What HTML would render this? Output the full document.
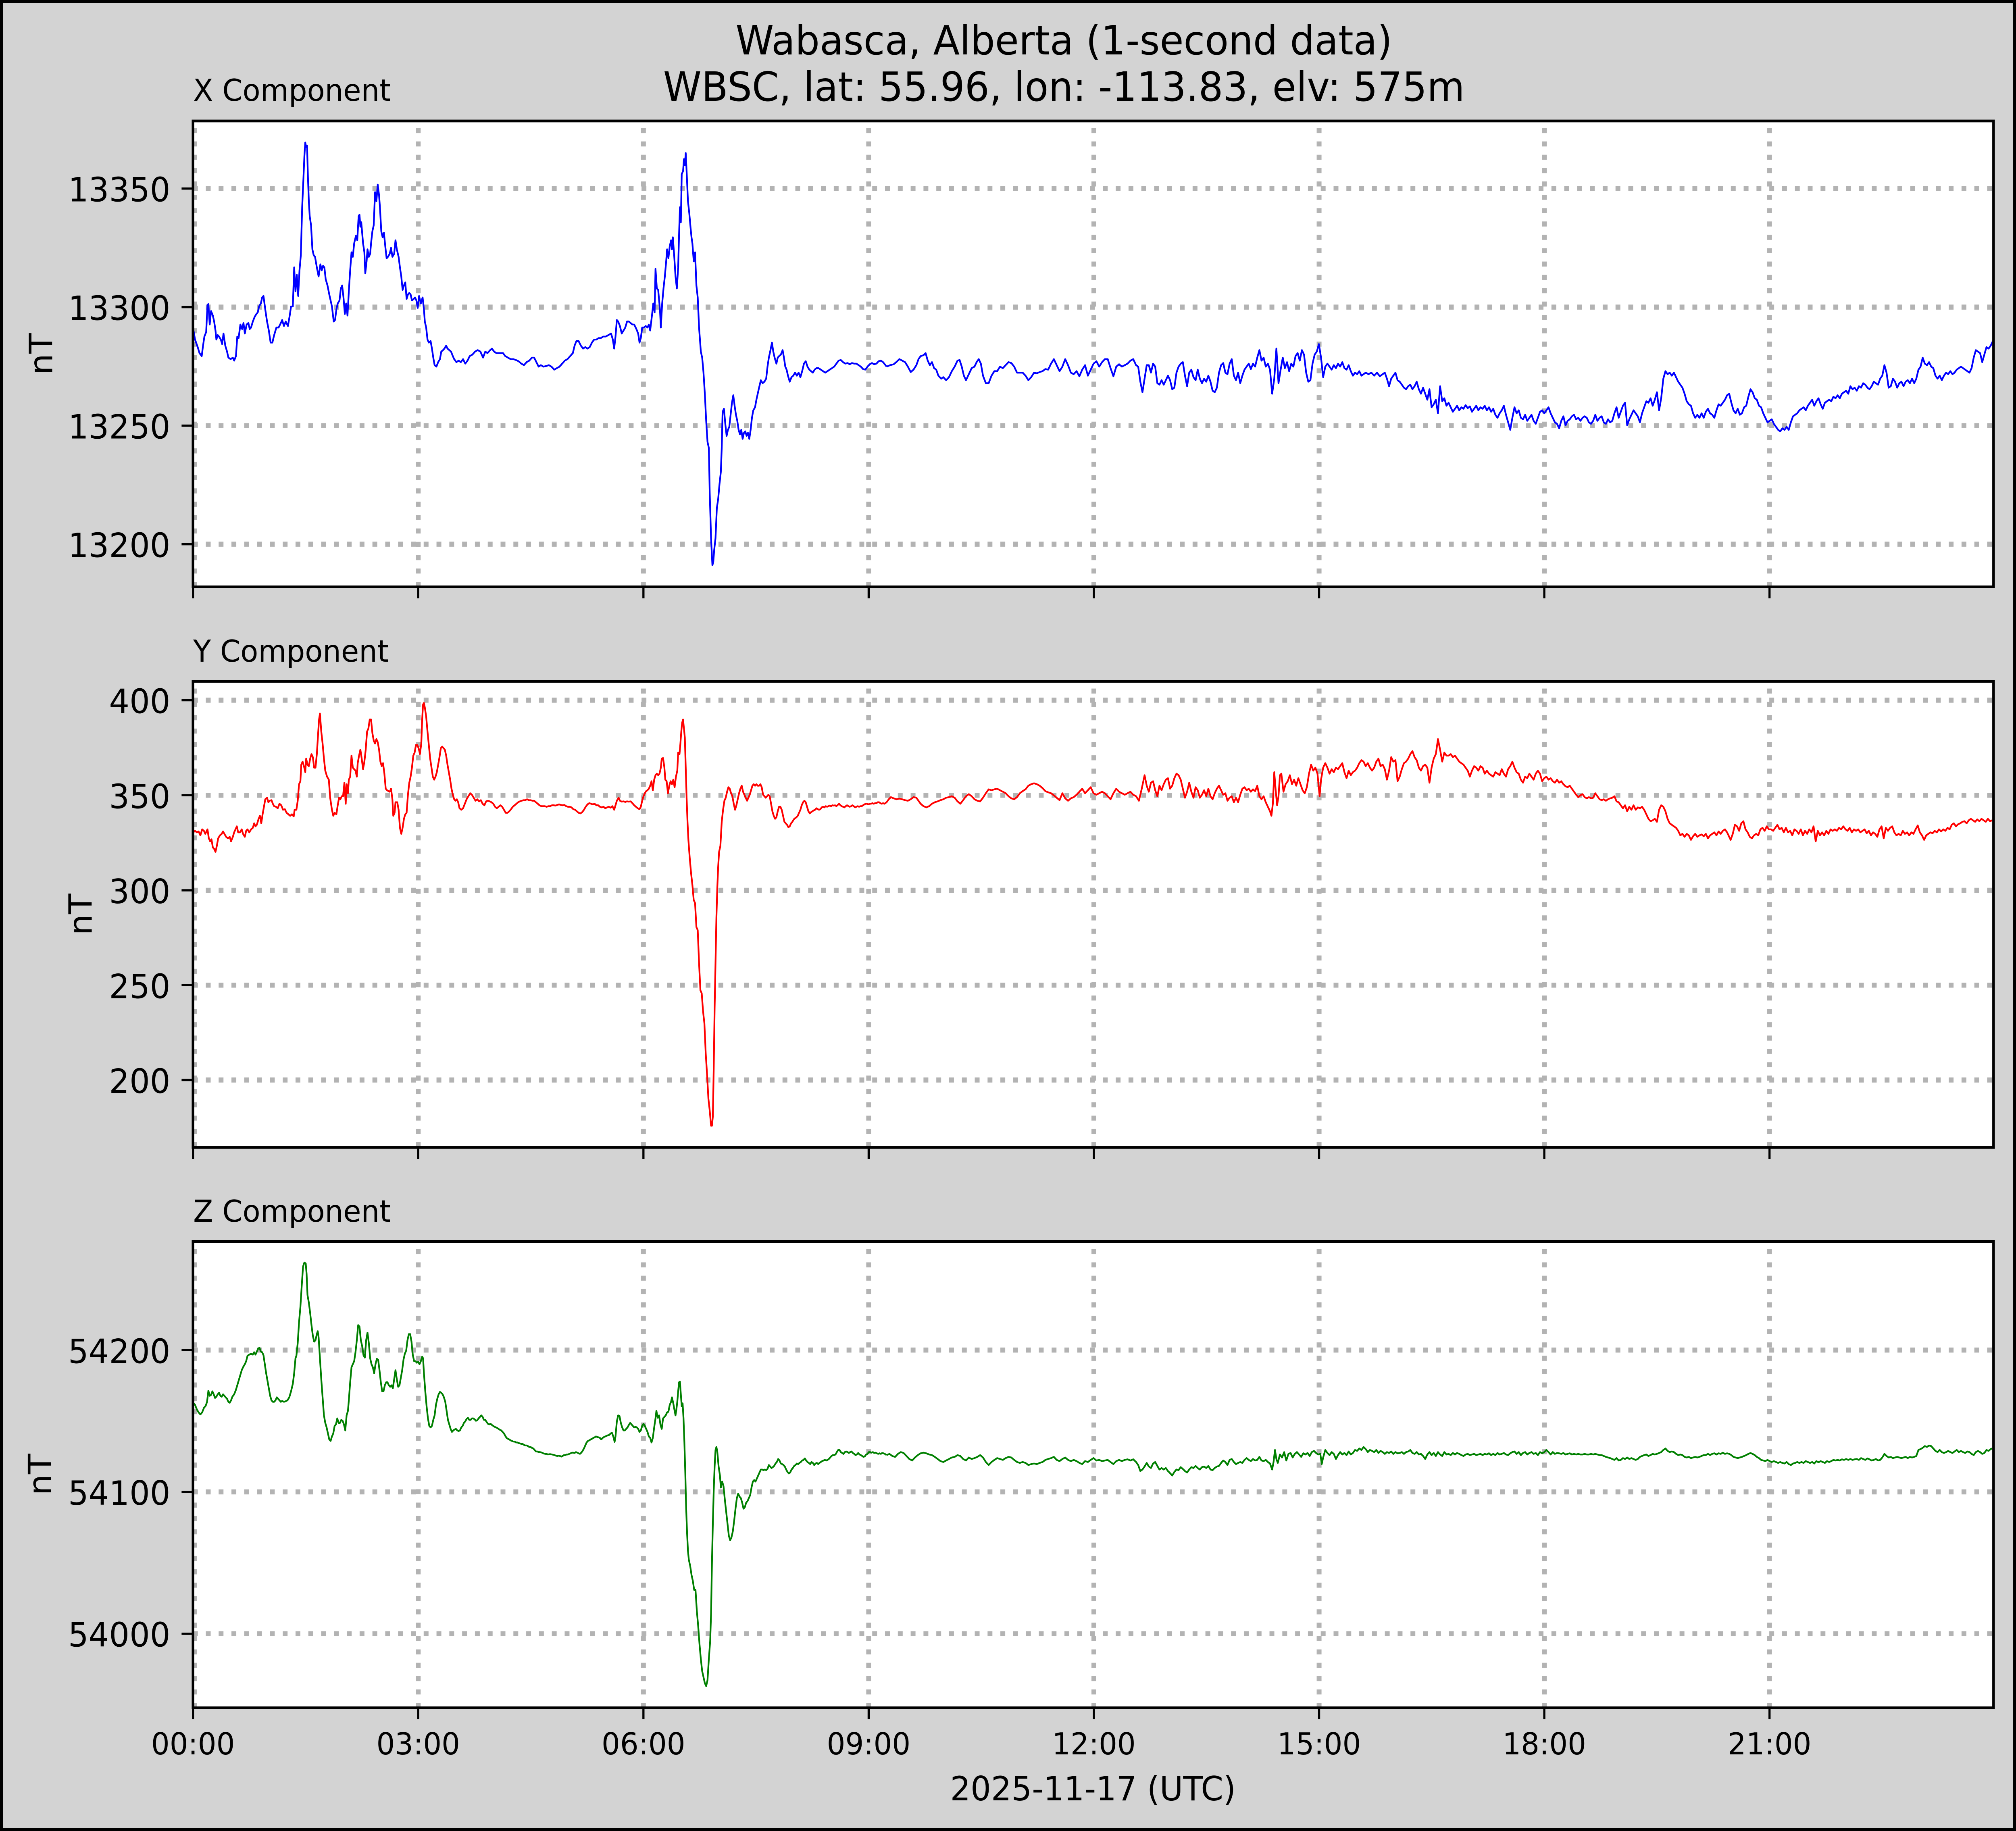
<!DOCTYPE html>
<html>
<head>
<meta charset="utf-8">
<style>
html,body{margin:0;padding:0;background:#d3d3d3;overflow:hidden;width:100%;height:100%;}
svg{display:block;width:100vw;height:100vh;}
text{font-family:"DejaVu Sans","Liberation Sans",sans-serif;fill:#000;}
.g{stroke:#b3b3b3;stroke-width:12.5;stroke-dasharray:12.5 20.6;fill:none;}
.tk{stroke:#000;stroke-width:5.5;}
.sp{fill:none;stroke:#000;stroke-width:6.7;}
.tr{fill:none;stroke-width:4.2;stroke-linejoin:round;vector-effect:non-scaling-stroke;}
</style>
</head>
<body>
<svg viewBox="0 0 5207 4541" preserveAspectRatio="none" xmlns="http://www.w3.org/2000/svg">
<defs>
<clipPath id="cx"><rect x="498.5" y="300" width="4650.5" height="1155.5"/></clipPath>
<clipPath id="cy"><rect x="498.5" y="1690" width="4650.5" height="1155.5"/></clipPath>
<clipPath id="cz"><rect x="498.5" y="3079" width="4650.5" height="1156.5"/></clipPath>
</defs>
<rect x="0" y="0" width="5207" height="4541" fill="#d3d3d3"/>

<!-- Title -->
<text x="2748" y="135" font-size="100" text-anchor="middle">Wabasca, Alberta (1-second data)</text>
<text x="2748" y="250" font-size="100" text-anchor="middle">WBSC, lat: 55.96, lon: -113.83, elv: 575m</text>

<!-- ================= X panel ================= -->
<rect x="498.5" y="300" width="4650.5" height="1155.5" fill="#fff"/>
<text x="499" y="250" font-size="75">X Component</text>
<g class="g">
<line x1="498.5" y1="467.6" x2="5149" y2="467.6"/>
<line x1="498.5" y1="761.6" x2="5149" y2="761.6"/>
<line x1="498.5" y1="1055.6" x2="5149" y2="1055.6"/>
<line x1="498.5" y1="1349.6" x2="5149" y2="1349.6"/>
<line x1="502" y1="1455.5" x2="502" y2="300"/>
<line x1="1080.2" y1="1455.5" x2="1080.2" y2="300"/>
<line x1="1661.9" y1="1455.5" x2="1661.9" y2="300"/>
<line x1="2243.6" y1="1455.5" x2="2243.6" y2="300"/>
<line x1="2825.3" y1="1455.5" x2="2825.3" y2="300"/>
<line x1="3407" y1="1455.5" x2="3407" y2="300"/>
<line x1="3988.7" y1="1455.5" x2="3988.7" y2="300"/>
<line x1="4570.4" y1="1455.5" x2="4570.4" y2="300"/>
</g>
<g clip-path="url(#cx)">
<polyline class="tr" stroke="#0000ff" transform="translate(490,290) scale(1.14796,0.74617)" points="8,705 12,740 18,765 22,785 27,795 30,760 33,730 37,715 40,625 42,622 45,690 48,645 52,660 55,680 58,710 60,740 63,725 66,730 70,740 73,755 76,720 80,760 84,780 87,800 92,805 97,800 100,810 104,795 107,730 110,735 114,690 118,705 121,685 124,720 128,690 132,685 135,705 138,700 142,680 146,665 150,655 153,650 156,630 160,620 163,600 166,595 170,640 174,680 178,710 182,750 186,750 190,725 195,700 200,700 205,685 208,675 212,695 216,680 221,695 225,660 228,630 232,630 235,500 238,580 241,525 244,595 247,510 250,460 253,300 256,200 258,130 260,85 262,100 264,95 266,200 268,280 270,330 273,360 276,440 279,460 282,465 286,500 290,530 294,490 297,510 300,495 303,500 306,540 310,560 314,590 317,610 320,630 324,680 327,675 330,640 333,620 337,610 340,570 343,560 346,600 349,655 352,620 355,660 358,580 361,510 364,450 367,465 370,420 374,395 377,410 380,330 382,325 384,365 386,350 390,420 393,450 395,520 398,480 400,440 403,465 406,455 408,420 411,380 414,360 417,250 420,280 423,225 426,260 428,300 431,380 434,400 437,385 440,430 443,470 446,465 450,455 453,435 456,465 460,455 463,410 466,440 470,465 473,500 476,530 479,575 482,560 485,550 488,605 491,590 494,585 497,590 500,610 504,605 507,600 510,610 513,635 516,595 520,620 524,600 527,640 529,680 532,700 535,740 538,750 542,745 545,770 548,800 551,825 555,830 559,815 563,805 566,780 570,775 573,770 577,760 580,770 584,775 588,780 592,795 595,805 600,815 605,810 610,815 615,805 620,820 625,810 630,795 636,790 642,780 648,775 654,780 660,800 665,780 670,785 676,775 680,770 685,780 690,785 695,785 700,785 705,785 710,795 716,800 722,805 728,805 734,808 740,812 746,820 752,825 758,815 764,810 770,800 775,800 780,815 785,830 790,825 796,830 802,828 808,825 814,830 820,840 826,835 832,830 838,820 844,810 850,805 856,795 862,785 866,760 870,745 875,745 880,760 885,770 890,765 895,770 900,765 905,750 910,740 915,740 920,735 925,735 930,730 936,730 942,725 948,720 952,740 955,770 958,730 961,675 964,680 968,695 972,720 976,710 980,700 984,680 988,680 992,685 996,690 1000,690 1005,705 1009,720 1012,750 1015,735 1018,700 1022,700 1026,695 1030,700 1033,690 1036,710 1040,660 1043,620 1046,650 1048,505 1051,570 1054,575 1058,640 1060,700 1063,620 1066,570 1069,530 1072,480 1074,440 1077,470 1080,430 1083,410 1085,440 1087,400 1090,460 1093,530 1096,570 1099,500 1101,390 1103,300 1105,350 1107,190 1110,180 1112,140 1114,160 1116,120 1118,180 1121,280 1124,320 1127,370 1129,400 1131,420 1134,480 1137,450 1140,560 1143,600 1146,700 1150,780 1153,800 1156,850 1159,920 1162,1010 1165,1080 1168,1100 1170,1250 1173,1400 1176,1490 1178,1480 1180,1440 1183,1400 1186,1300 1189,1270 1192,1220 1195,1180 1197,1100 1199,980 1202,970 1205,1020 1208,1060 1211,1040 1214,1030 1217,990 1220,950 1223,925 1226,960 1229,990 1232,1010 1235,1040 1238,1055 1241,1040 1244,1070 1247,1050 1250,1045 1253,1060 1256,1050 1259,1070 1262,1040 1265,1000 1268,975 1272,965 1275,940 1278,920 1281,900 1285,875 1289,885 1293,880 1297,870 1300,830 1303,800 1306,780 1310,750 1313,780 1316,800 1320,820 1323,800 1326,795 1330,790 1334,775 1337,800 1340,830 1343,840 1346,860 1350,880 1354,865 1358,860 1362,850 1366,860 1370,850 1374,865 1378,845 1382,820 1386,812 1390,830 1394,840 1398,845 1402,850 1406,840 1410,835 1415,835 1420,840 1425,845 1430,850 1435,845 1440,840 1445,835 1450,830 1455,820 1460,810 1465,808 1470,815 1475,820 1480,818 1485,822 1490,818 1495,820 1500,820 1505,825 1510,830 1515,838 1520,840 1525,830 1530,822 1535,818 1540,822 1545,820 1550,812 1555,810 1560,815 1568,830"/>
<polyline class="tr" stroke="#0000ff" transform="translate(2290,290) scale(1.83036,0.74617)" points="0,830 5,825 10,822 15,812 18,805 22,810 26,815 30,830 34,848 38,840 42,825 45,805 48,795 52,792 55,785 58,810 61,825 64,815 67,835 70,840 73,860 77,870 80,865 84,875 88,865 92,845 96,830 100,810 103,808 106,830 109,860 112,875 116,855 120,835 124,830 127,815 130,805 133,820 136,860 140,885 144,885 148,860 152,845 156,845 160,830 164,835 168,825 172,815 176,818 180,830 184,850 188,850 192,850 196,860 200,875 204,865 208,850 212,852 216,848 220,845 224,838 228,840 232,820 236,805 240,825 244,845 248,830 252,805 256,825 260,850 264,855 268,845 272,862 276,840 280,825 284,860 288,840 292,820 296,812 300,830 304,815 308,805 312,805 316,835 320,862 324,830 328,822 332,830 336,825 340,820 344,810 348,805 352,825 355,830 358,880 361,915 364,870 367,825 370,825 373,850 376,820 379,830 382,885 385,890 388,875 391,890 394,875 397,860 400,875 403,905 406,900 409,850 412,830 415,820 418,815 421,860 424,895 427,850 430,840 433,865 436,875 439,840 442,870 445,885 448,870 451,880 454,860 457,880 460,910 463,915 466,900 469,850 472,825 475,818 478,850 481,855 484,820 487,805 490,860 493,875 496,850 499,885 502,860 505,840 508,830 511,820 514,838 517,820 520,830 523,800 526,775 529,810 532,800 535,830 538,820 541,840 544,920 547,870 550,770 553,885 556,840 559,800 562,835 565,815 568,845 571,820 574,830 577,795 580,785 583,810 586,775 589,790 592,850 595,880 598,875 601,820 604,790 607,780 610,755 613,800 616,865 619,830 622,820 625,830 628,840 631,825 634,835 637,820 640,830 643,815 646,835 649,840 652,825 655,845 658,860 661,850 664,855 667,845 670,860 673,855 676,850 680,855 684,850 688,860 692,850 696,862 700,855 703,850 706,870 709,895 712,870 715,860 718,850 721,875 724,880 727,890 730,900 733,905 736,895 739,890 742,905 745,895 748,880 751,905 754,920 757,900 760,920 763,940 766,905 769,965 772,955 775,940 778,985 781,895 784,945 787,935 790,960 793,950 796,965 799,980 802,970 805,960 808,975 811,965 814,970 817,958 820,968 823,962 826,980 829,970 832,960 835,975 838,965 841,970 844,960 847,975 850,965 853,980 856,970 859,990 862,1000 865,985 868,975 871,960 874,990 877,1015 880,1040 883,1000 886,965 889,985 892,975 895,1000 898,1005 901,990 904,1010 907,1000 910,990 913,1010 916,1020 919,1000 922,980 925,975 928,985 931,975 934,965 937,985 940,1000 943,1015 946,1020 949,1035 952,1010 955,995 958,1025 961,1010 964,1005 967,995 970,990 973,1005 976,1000 979,1010 982,1000 985,995 988,1000 991,1015 994,1020 997,1010 1000,990 1003,1010 1006,1000 1009,995 1012,1015 1015,1020 1018,1005 1021,1015 1024,1010 1027,985 1030,965 1033,1000 1036,980 1039,960 1042,950 1045,1025 1048,1005 1051,990 1054,975 1057,985 1060,995 1063,1015 1066,985 1069,965 1072,945 1075,950 1078,935 1081,960 1084,940 1087,915 1090,975 1093,935 1096,870 1099,845 1102,855 1105,850 1108,860 1111,850 1114,865 1117,880 1120,890 1123,900 1126,920 1129,945 1132,955 1135,960 1138,985 1141,1000 1144,990 1147,1000 1150,985 1153,1000 1156,980 1159,970 1162,985 1165,990 1168,1000 1171,975 1174,955 1177,960 1180,950 1183,940 1186,925 1189,920 1192,950 1195,975 1198,985 1201,970 1204,990 1207,985 1210,965 1213,960 1216,930 1219,905 1222,915 1225,935 1228,940 1231,960 1234,965 1237,985 1240,1000 1243,1015 1246,1010 1249,1005 1252,1020 1255,1030 1258,1040 1261,1045 1264,1035 1267,1040 1270,1030 1273,1040 1276,1015 1279,995 1282,990 1285,985 1288,975 1291,970 1294,965 1297,975 1300,960 1303,950 1306,940 1309,960 1312,945 1315,935 1318,955 1321,970 1324,950 1327,945 1330,940 1333,945 1336,930 1339,935 1342,925 1345,935 1348,920 1351,915 1354,910 1357,920 1360,895 1363,905 1366,900 1369,910 1372,895 1375,900 1378,885 1381,890 1384,900 1387,905 1390,895 1393,880 1396,885 1399,890 1402,870 1405,860 1408,825 1411,850 1414,900 1417,895 1420,870 1423,880 1426,900 1429,885 1432,880 1435,895 1438,880 1441,875 1444,885 1447,870 1450,885 1453,870 1456,840 1459,830 1462,800 1465,820 1468,825 1471,815 1474,830 1477,835 1480,860 1483,870 1486,860 1489,875 1492,860 1495,850 1498,855 1501,845 1504,855 1507,850 1510,840 1513,835 1516,830 1519,835 1522,840 1525,845 1528,850 1531,835 1534,800 1537,775 1540,780 1543,785 1546,815 1549,790 1552,765 1555,770 1558,760 1561,745 1562,745"/>
</g>
<rect class="sp" x="498.5" y="300" width="4650.5" height="1155.5"/>
<g class="tk">
<line x1="469" y1="467.6" x2="498.5" y2="467.6"/>
<line x1="469" y1="761.6" x2="498.5" y2="761.6"/>
<line x1="469" y1="1055.6" x2="498.5" y2="1055.6"/>
<line x1="469" y1="1349.6" x2="498.5" y2="1349.6"/>
<line x1="498.5" y1="1455.5" x2="498.5" y2="1484"/>
<line x1="1080.2" y1="1455.5" x2="1080.2" y2="1484"/>
<line x1="1661.9" y1="1455.5" x2="1661.9" y2="1484"/>
<line x1="2243.6" y1="1455.5" x2="2243.6" y2="1484"/>
<line x1="2825.3" y1="1455.5" x2="2825.3" y2="1484"/>
<line x1="3407" y1="1455.5" x2="3407" y2="1484"/>
<line x1="3988.7" y1="1455.5" x2="3988.7" y2="1484"/>
<line x1="4570.4" y1="1455.5" x2="4570.4" y2="1484"/>
</g>
<g font-size="83" text-anchor="end">
<text x="440" y="499.6">13350</text>
<text x="440" y="793.6">13300</text>
<text x="440" y="1087.6">13250</text>
<text x="440" y="1381.6">13200</text>
</g>
<text transform="translate(135,878) rotate(-90)" font-size="83" text-anchor="middle">nT</text>

<!-- ================= Y panel ================= -->
<rect x="498.5" y="1690" width="4650.5" height="1155.5" fill="#fff"/>
<text x="499" y="1641" font-size="75">Y Component</text>
<g class="g">
<line x1="498.5" y1="1736.5" x2="5149" y2="1736.5"/>
<line x1="498.5" y1="1972.3" x2="5149" y2="1972.3"/>
<line x1="498.5" y1="2208" x2="5149" y2="2208"/>
<line x1="498.5" y1="2443.3" x2="5149" y2="2443.3"/>
<line x1="498.5" y1="2678.5" x2="5149" y2="2678.5"/>
<line x1="502" y1="2845.5" x2="502" y2="1690"/>
<line x1="1080.2" y1="2845.5" x2="1080.2" y2="1690"/>
<line x1="1661.9" y1="2845.5" x2="1661.9" y2="1690"/>
<line x1="2243.6" y1="2845.5" x2="2243.6" y2="1690"/>
<line x1="2825.3" y1="2845.5" x2="2825.3" y2="1690"/>
<line x1="3407" y1="2845.5" x2="3407" y2="1690"/>
<line x1="3988.7" y1="2845.5" x2="3988.7" y2="1690"/>
<line x1="4570.4" y1="2845.5" x2="4570.4" y2="1690"/>
</g>
<g clip-path="url(#cy)">
<polyline class="tr" stroke="#ff0000" transform="translate(490,1680) scale(1.14796,0.74617)" points="8,515 12,510 16,515 20,512 24,525 28,505 32,510 35,520 40,505 43,535 46,545 49,538 52,565 55,570 58,580 61,560 64,535 68,525 72,520 75,512 78,520 82,530 86,535 90,530 93,545 97,530 100,515 103,505 106,495 109,515 113,515 117,505 120,520 124,530 127,510 130,505 134,515 138,505 142,500 145,485 148,495 151,490 155,470 158,460 161,485 164,455 167,430 170,405 174,400 177,415 180,410 184,408 187,420 190,428 194,430 198,435 202,420 206,425 210,440 214,438 218,450 222,455 226,460 230,455 234,462 236,440 240,440 243,410 246,355 249,345 251,290 254,280 257,295 260,315 262,270 265,290 268,295 271,270 274,255 277,265 280,300 283,300 286,255 289,185 291,140 293,120 296,180 299,220 302,270 305,310 309,330 313,340 316,400 320,440 323,460 326,450 330,455 333,425 336,400 339,405 342,395 345,395 348,350 351,420 353,355 356,385 358,340 361,330 364,260 367,300 370,305 373,310 376,330 378,285 381,260 384,240 387,270 390,305 393,280 396,240 399,180 402,170 405,140 408,140 411,185 414,210 417,220 420,205 423,215 426,240 429,280 432,295 435,285 438,320 441,370 444,375 447,378 450,380 453,370 456,405 458,460 461,450 463,415 467,415 470,440 473,500 476,520 479,500 482,470 485,455 488,450 491,390 494,350 497,330 500,300 503,260 506,250 509,225 512,225 515,235 518,255 521,220 523,140 525,90 527,85 529,100 532,130 535,180 538,225 541,270 544,300 547,330 550,340 553,330 556,315 559,290 562,265 565,235 568,230 571,235 574,240 577,260 580,290 583,315 586,340 589,370 592,390 595,405 598,410 601,405 604,415 607,435 611,440 615,435 619,420 623,405 627,395 631,385 635,390 639,400 643,410 647,405 651,412 655,408 659,420 663,425 667,412 671,410 675,412 679,415 683,420 687,430 691,435 695,430 699,425 703,430 707,440 711,450 715,450 719,445 723,438 727,430 731,425 735,420 739,415 743,412 747,410 751,408 755,408 759,405 763,408 767,408 771,410 775,410 779,415 783,420 787,425 791,428 795,428 799,428 803,430 807,428 811,428 815,425 819,425 823,426 827,424 831,422 835,424 839,425 843,424 847,428 851,430 855,430 859,432 863,438 867,440 871,445 875,450 879,452 883,448 887,440 891,430 895,422 899,418 903,420 907,422 911,420 915,425 919,425 923,430 927,432 931,430 935,435 939,432 943,430 947,433 951,428 955,440 958,425 961,410 965,400 968,410 972,413 976,412 980,414 984,412 988,413 992,412 996,418 1000,425 1004,430 1008,435 1012,438 1015,430 1018,410 1021,395 1024,385 1027,378 1030,375 1033,370 1036,360 1039,345 1042,375 1045,340 1048,325 1051,320 1054,325 1057,320 1060,300 1062,270 1065,268 1068,300 1070,340 1073,345 1076,385 1079,360 1082,345 1085,355 1088,340 1091,365 1094,330 1097,310 1099,250 1102,255 1104,220 1106,180 1108,150 1110,140 1112,170 1114,200 1116,300 1118,400 1120,480 1122,540 1125,600 1128,650 1131,690 1134,740 1137,750 1140,830 1143,840 1146,950 1149,1040 1152,1050 1155,1110 1158,1150 1161,1250 1164,1320 1167,1400 1170,1440 1173,1490 1175,1490 1177,1460 1179,1300 1181,1100 1183,950 1185,800 1187,700 1189,630 1191,580 1194,560 1197,480 1200,440 1203,410 1206,400 1209,380 1212,365 1215,370 1218,385 1221,395 1224,420 1227,440 1230,425 1233,405 1236,385 1239,370 1242,360 1245,380 1248,390 1251,400 1254,410 1257,400 1260,390 1263,375 1266,360 1269,355 1272,360 1275,355 1278,360 1281,360 1284,355 1287,365 1290,390 1293,395 1296,400 1299,395 1302,390 1305,395 1308,420 1311,445 1314,460 1317,470 1320,465 1323,445 1326,430 1329,430 1332,440 1335,460 1338,480 1341,485 1344,490 1347,498 1350,495 1353,485 1356,480 1359,472 1362,468 1365,465 1368,460 1371,450 1374,440 1377,425 1380,415 1383,410 1386,415 1389,430 1392,445 1395,452 1398,448 1401,445 1404,442 1407,440 1410,435 1413,438 1416,440 1419,438 1422,432 1425,430 1428,432 1431,428 1434,430 1437,428 1440,426 1443,428 1446,425 1449,426 1452,425 1455,428 1458,424 1461,420 1464,425 1467,428 1470,430 1473,432 1476,428 1479,425 1482,428 1485,430 1488,428 1491,425 1494,428 1497,432 1500,430 1503,428 1506,430 1509,428 1512,428 1515,425 1518,422 1521,420 1524,420 1527,422 1530,420 1533,420 1536,418 1539,420 1542,418 1545,418 1548,415 1551,415 1554,418 1557,420 1560,418 1563,420 1568,415"/>
<polyline class="tr" stroke="#ff0000" transform="translate(2290,1680) scale(1.83036,0.74617)" points="0,415 3,405 6,398 10,402 14,405 18,403 22,405 26,408 30,410 34,405 38,398 42,400 45,410 48,420 52,428 56,432 60,428 64,420 68,415 72,412 76,408 80,405 84,400 88,398 92,395 96,400 100,412 104,420 108,408 112,395 116,388 120,395 124,405 128,410 132,412 136,400 140,385 144,372 148,375 152,372 156,370 160,375 164,380 168,385 172,395 176,402 180,405 184,398 188,385 192,378 196,372 200,360 204,355 208,352 212,355 216,360 220,368 224,378 228,382 232,385 236,392 240,400 244,408 248,385 252,402 256,410 260,402 264,398 268,390 272,380 276,370 280,385 284,375 288,365 292,385 296,390 300,385 304,380 308,385 312,395 316,405 320,385 324,370 328,380 332,385 336,390 340,385 344,380 348,390 352,395 356,410 360,370 364,325 367,360 370,380 373,350 376,345 379,375 382,395 385,360 388,375 391,355 394,340 397,335 400,370 403,360 406,335 409,320 412,325 415,340 418,370 421,400 424,380 427,350 430,380 433,400 436,365 439,375 442,400 445,390 448,375 451,395 454,370 457,395 460,405 463,385 466,370 469,360 472,375 475,390 478,385 481,410 484,400 487,395 490,415 493,400 496,415 499,390 502,370 505,365 508,375 511,370 514,380 517,372 520,378 523,360 526,395 529,405 532,395 535,415 538,430 541,445 543,460 545,420 547,315 549,375 551,425 553,395 555,325 557,320 560,380 563,355 566,345 569,325 572,355 575,340 578,360 581,335 584,355 587,375 590,385 593,365 596,320 599,290 602,310 605,300 608,320 611,395 613,340 616,300 619,285 622,300 625,320 628,305 631,315 634,300 637,305 640,295 643,285 646,315 649,335 652,310 655,325 658,315 661,310 664,300 667,285 670,275 673,280 676,295 679,285 682,300 685,310 688,300 691,280 694,270 697,295 700,290 703,305 706,340 709,310 712,265 715,280 718,275 721,345 724,330 727,305 730,285 733,280 736,270 739,255 742,245 745,265 748,275 751,300 754,310 757,295 760,290 763,300 766,350 769,300 772,270 775,255 778,205 781,240 784,280 787,250 790,260 793,260 796,255 799,265 802,260 805,270 808,280 811,285 814,290 817,300 820,310 823,330 826,310 829,295 832,300 835,310 838,295 841,300 844,320 847,310 850,320 853,325 856,330 859,315 862,320 865,325 868,305 871,320 874,330 877,305 880,295 883,280 886,300 889,315 892,320 895,340 898,350 901,330 904,335 907,320 910,330 913,340 916,320 919,310 922,320 925,345 928,335 931,330 934,340 937,335 940,345 943,350 946,340 949,350 952,345 955,355 958,362 961,365 964,360 967,370 970,380 973,390 976,398 979,392 982,388 985,398 988,402 991,398 994,402 997,400 1000,385 1003,395 1006,405 1009,408 1012,405 1015,410 1018,405 1021,402 1024,400 1027,395 1030,412 1033,415 1036,425 1039,435 1042,425 1045,445 1048,430 1051,440 1054,425 1057,440 1060,432 1063,435 1066,430 1069,440 1072,455 1075,470 1078,478 1081,475 1084,470 1087,480 1090,440 1093,425 1096,430 1099,445 1102,470 1105,485 1108,490 1111,495 1114,500 1117,510 1120,525 1123,520 1126,530 1129,520 1132,525 1135,540 1138,528 1141,520 1144,530 1147,525 1150,522 1153,528 1156,520 1159,535 1162,525 1165,520 1168,515 1171,525 1174,512 1177,520 1180,510 1183,505 1186,515 1189,530 1191,540 1194,520 1197,490 1200,495 1203,510 1206,485 1209,478 1212,505 1215,515 1218,530 1221,535 1224,525 1227,520 1230,525 1233,505 1236,500 1239,510 1242,495 1245,505 1248,505 1251,510 1254,500 1257,490 1260,505 1263,500 1266,515 1269,500 1272,515 1275,510 1278,525 1281,505 1284,510 1287,520 1290,505 1293,525 1296,510 1299,520 1302,505 1305,515 1308,495 1311,545 1314,510 1317,525 1320,515 1323,525 1326,510 1329,520 1332,505 1335,510 1338,505 1341,510 1344,500 1347,505 1350,495 1353,505 1356,510 1359,500 1362,515 1365,505 1368,510 1371,505 1374,515 1377,510 1380,505 1383,518 1386,510 1389,525 1392,515 1395,520 1398,530 1401,505 1404,495 1407,535 1410,500 1413,510 1416,500 1419,495 1422,515 1425,525 1428,520 1431,525 1434,510 1437,520 1440,515 1443,525 1446,515 1449,520 1452,505 1455,492 1458,515 1461,525 1464,540 1467,525 1470,520 1473,515 1476,518 1479,510 1482,515 1485,505 1488,512 1491,505 1494,510 1497,500 1500,505 1503,490 1506,485 1509,495 1512,488 1515,485 1518,480 1521,478 1524,485 1527,475 1530,470 1533,475 1536,480 1539,472 1542,478 1545,470 1548,475 1551,480 1554,470 1557,478 1560,475"/>
</g>
<rect class="sp" x="498.5" y="1690" width="4650.5" height="1155.5"/>
<g class="tk">
<line x1="469" y1="1736.5" x2="498.5" y2="1736.5"/>
<line x1="469" y1="1972.3" x2="498.5" y2="1972.3"/>
<line x1="469" y1="2208" x2="498.5" y2="2208"/>
<line x1="469" y1="2443.3" x2="498.5" y2="2443.3"/>
<line x1="469" y1="2678.5" x2="498.5" y2="2678.5"/>
<line x1="498.5" y1="2845.5" x2="498.5" y2="2874"/>
<line x1="1080.2" y1="2845.5" x2="1080.2" y2="2874"/>
<line x1="1661.9" y1="2845.5" x2="1661.9" y2="2874"/>
<line x1="2243.6" y1="2845.5" x2="2243.6" y2="2874"/>
<line x1="2825.3" y1="2845.5" x2="2825.3" y2="2874"/>
<line x1="3407" y1="2845.5" x2="3407" y2="2874"/>
<line x1="3988.7" y1="2845.5" x2="3988.7" y2="2874"/>
<line x1="4570.4" y1="2845.5" x2="4570.4" y2="2874"/>
</g>
<g font-size="83" text-anchor="end">
<text x="440" y="1768.5">400</text>
<text x="440" y="2004.3">350</text>
<text x="440" y="2240">300</text>
<text x="440" y="2475.3">250</text>
<text x="440" y="2710.5">200</text>
</g>
<text transform="translate(237,2268) rotate(-90)" font-size="83" text-anchor="middle">nT</text>

<!-- ================= Z panel ================= -->
<rect x="498.5" y="3079" width="4650.5" height="1156.5" fill="#fff"/>
<text x="499" y="3030" font-size="75">Z Component</text>
<g class="g">
<line x1="498.5" y1="3348.3" x2="5149" y2="3348.3"/>
<line x1="498.5" y1="3700" x2="5149" y2="3700"/>
<line x1="498.5" y1="4051.7" x2="5149" y2="4051.7"/>
<line x1="502" y1="4235.5" x2="502" y2="3079"/>
<line x1="1080.2" y1="4235.5" x2="1080.2" y2="3079"/>
<line x1="1661.9" y1="4235.5" x2="1661.9" y2="3079"/>
<line x1="2243.6" y1="4235.5" x2="2243.6" y2="3079"/>
<line x1="2825.3" y1="4235.5" x2="2825.3" y2="3079"/>
<line x1="3407" y1="4235.5" x2="3407" y2="3079"/>
<line x1="3988.7" y1="4235.5" x2="3988.7" y2="3079"/>
<line x1="4570.4" y1="4235.5" x2="4570.4" y2="3079"/>
</g>
<g clip-path="url(#cz)">
<polyline class="tr" stroke="#008000" transform="translate(490,3070) scale(1.14796,0.74617)" points="8,548 12,555 16,570 20,580 24,587 28,580 32,565 36,558 39,545 42,508 45,525 48,522 51,510 54,520 57,532 60,528 63,520 66,515 69,525 72,528 75,520 78,525 81,530 84,535 87,545 90,548 93,540 96,528 100,520 104,505 108,485 111,470 114,455 117,440 120,430 124,420 127,410 130,392 134,388 138,385 142,388 145,380 148,388 151,378 154,368 157,365 160,378 163,380 166,390 169,420 172,450 175,475 178,500 181,525 184,540 187,545 190,545 193,540 196,530 199,535 202,540 205,545 208,542 212,545 216,543 220,540 224,530 228,510 232,485 235,450 238,400 240,392 243,350 246,280 249,230 252,160 255,95 258,82 261,85 263,120 265,190 268,215 271,250 274,290 277,325 280,345 283,340 286,320 288,310 290,330 293,400 296,470 299,530 302,590 305,615 308,630 311,650 314,670 317,675 320,660 323,650 326,625 329,620 332,600 335,615 338,615 341,605 344,608 347,620 350,640 353,590 356,575 358,540 361,480 364,430 367,420 370,410 373,380 376,340 379,290 382,295 385,340 388,360 391,390 394,398 397,340 400,315 403,350 406,400 409,420 412,430 415,450 418,420 421,402 424,405 427,440 430,480 433,510 436,510 439,490 442,480 445,480 448,490 451,495 454,490 457,500 460,470 463,440 466,470 469,495 472,490 475,465 478,440 481,405 484,385 487,375 490,340 493,320 496,320 499,345 502,390 505,410 508,410 511,415 514,412 517,420 520,410 523,395 525,400 527,450 530,510 533,560 536,600 539,625 542,630 545,625 548,605 551,590 554,555 557,535 560,520 563,512 566,515 569,520 572,530 575,545 578,575 581,605 584,620 587,635 590,645 593,640 596,637 599,635 602,640 605,642 608,640 611,630 614,625 617,615 620,610 623,602 626,598 629,605 632,605 635,600 638,600 641,603 644,608 647,606 650,600 653,595 656,590 659,595 662,605 665,605 668,612 671,618 674,620 677,618 680,622 683,625 686,628 689,630 692,632 695,635 698,638 701,640 704,645 707,650 710,658 713,665 716,668 719,670 722,673 725,675 728,677 731,677 734,680 737,680 740,682 743,683 746,685 749,685 752,688 755,690 758,690 761,692 764,695 767,695 770,698 773,700 776,705 779,710 782,710 785,712 788,712 791,713 794,715 797,717 800,718 803,718 806,720 809,719 812,719 815,720 818,721 821,722 824,724 827,725 830,724 833,725 836,727 839,725 842,722 845,722 848,720 851,720 854,718 857,716 860,714 863,714 866,715 869,712 872,714 875,716 878,718 881,714 884,708 887,700 890,690 893,680 896,675 899,673 902,670 905,668 908,665 911,663 914,660 917,662 920,663 923,665 926,670 929,665 932,662 935,660 938,658 941,656 944,655 947,650 950,648 953,660 956,678 958,660 961,610 964,590 967,592 970,615 973,630 976,640 979,640 982,635 985,630 988,622 991,615 994,620 997,625 1000,630 1003,628 1006,630 1009,635 1012,645 1015,640 1018,625 1021,618 1024,625 1027,635 1030,645 1033,660 1036,665 1039,680 1042,665 1045,630 1048,600 1050,575 1053,598 1056,590 1059,620 1062,635 1065,600 1068,595 1071,590 1074,580 1077,578 1080,555 1083,545 1085,530 1088,550 1091,575 1093,590 1095,570 1097,545 1099,510 1101,480 1103,478 1105,520 1107,560 1109,550 1111,600 1113,680 1115,780 1117,900 1119,980 1121,1040 1123,1070 1126,1090 1129,1120 1132,1140 1135,1170 1138,1170 1141,1240 1144,1290 1147,1350 1150,1400 1153,1440 1156,1460 1159,1480 1162,1490 1165,1470 1168,1400 1171,1340 1173,1250 1175,1080 1177,950 1179,840 1181,760 1183,705 1185,695 1187,710 1190,760 1193,790 1195,830 1198,810 1201,825 1204,870 1207,910 1210,950 1213,990 1216,1005 1219,995 1222,975 1225,940 1228,900 1231,865 1234,850 1237,860 1240,865 1243,880 1246,900 1249,895 1252,880 1255,875 1258,865 1261,855 1264,830 1267,810 1270,805 1273,810 1276,800 1279,790 1282,780 1285,770 1288,770 1291,772 1294,770 1297,772 1300,768 1303,755 1306,760 1309,765 1312,762 1315,758 1318,750 1321,745 1324,735 1327,740 1330,750 1333,752 1336,755 1339,760 1342,770 1345,778 1348,783 1351,780 1354,770 1357,765 1360,758 1363,755 1366,750 1369,752 1372,748 1375,745 1378,740 1381,738 1384,733 1387,740 1390,745 1393,748 1396,752 1399,745 1402,748 1405,755 1408,750 1411,748 1414,752 1417,748 1420,745 1423,742 1426,740 1429,738 1432,740 1435,738 1438,735 1441,730 1444,725 1447,722 1450,722 1453,720 1456,712 1459,705 1462,705 1465,712 1468,715 1471,718 1474,712 1477,710 1480,712 1483,715 1486,712 1489,710 1492,715 1495,718 1498,722 1501,720 1504,715 1507,720 1510,722 1513,725 1516,728 1519,726 1522,720 1525,718 1528,712 1531,712 1534,714 1537,712 1540,715 1543,714 1546,716 1549,718 1552,716 1555,718 1558,715 1561,716 1564,718 1568,722"/>
<polyline class="tr" stroke="#008000" transform="translate(2290,3070) scale(1.83036,0.74617)" points="0,722 4,718 8,725 12,728 16,718 20,712 24,715 28,725 32,735 36,740 40,730 44,722 48,716 52,714 56,716 60,720 64,722 68,728 72,735 76,742 80,745 84,740 88,735 92,730 96,728 100,722 104,725 108,735 112,740 116,730 120,735 124,732 128,728 132,722 136,730 140,745 144,755 148,745 152,738 156,732 160,735 164,738 168,732 172,728 176,730 180,738 184,745 188,748 192,745 196,748 200,755 204,752 208,750 212,752 216,748 220,745 224,738 228,735 232,732 236,728 240,738 244,742 248,735 252,730 256,738 260,742 264,738 268,742 272,748 276,752 280,742 284,745 288,738 292,732 296,740 300,738 304,742 308,740 312,738 316,745 320,752 324,742 328,738 332,742 336,738 340,736 344,740 348,736 352,745 355,755 358,775 361,770 364,760 367,748 370,760 373,765 376,750 379,745 382,758 385,770 388,765 391,770 394,765 397,775 400,782 403,790 406,778 409,770 412,772 415,762 418,768 421,775 424,780 427,770 430,762 433,765 436,758 439,765 442,770 445,762 448,760 451,765 454,758 457,770 460,772 463,765 466,760 469,758 472,748 475,740 478,745 481,755 484,738 487,735 490,745 493,752 496,748 499,745 502,748 505,738 508,732 511,738 514,742 517,735 520,740 523,738 526,728 529,740 532,742 535,738 538,745 541,750 544,770 546,745 548,705 550,735 552,748 555,720 558,730 561,712 564,740 567,718 570,715 573,730 576,718 579,712 582,720 585,728 588,716 591,720 594,715 597,725 600,712 603,708 606,715 609,720 612,718 614,752 616,730 619,705 622,715 625,722 628,712 631,718 634,735 637,722 640,712 643,720 646,715 649,722 652,710 655,720 658,715 661,705 664,708 667,700 670,705 673,695 676,702 679,712 682,705 685,708 688,712 691,705 694,715 697,708 700,712 703,718 706,712 709,715 712,710 715,718 718,712 721,716 724,715 727,712 730,718 733,712 736,710 739,705 742,715 745,718 748,712 751,720 754,718 757,725 760,735 763,720 766,712 769,722 772,715 775,725 778,712 781,720 784,725 787,712 790,720 793,718 796,722 799,715 802,720 805,715 808,718 811,722 814,725 817,720 820,718 823,722 826,720 829,718 832,722 835,720 838,718 841,722 844,718 847,720 850,716 853,722 856,718 859,722 862,715 865,720 868,718 871,715 874,720 877,722 880,716 883,712 886,710 889,718 892,712 895,722 898,715 901,712 904,720 907,715 910,712 913,718 916,715 919,722 922,712 925,716 928,712 931,705 934,712 937,720 940,712 943,718 946,715 949,716 952,718 955,715 958,720 961,718 964,716 967,720 970,718 973,720 976,718 979,720 982,720 985,718 988,720 991,720 994,718 997,720 1000,718 1003,720 1006,722 1009,722 1012,725 1015,728 1018,730 1021,732 1024,735 1027,738 1030,732 1033,740 1036,738 1039,732 1042,735 1045,730 1048,735 1051,732 1054,735 1057,738 1060,735 1063,728 1066,725 1069,722 1072,720 1075,725 1078,722 1081,718 1084,720 1087,718 1090,715 1093,712 1096,705 1099,700 1102,708 1105,712 1108,710 1111,712 1114,718 1117,722 1120,720 1123,722 1126,728 1129,730 1132,728 1135,732 1138,730 1141,728 1144,730 1147,728 1150,725 1153,722 1156,722 1159,718 1162,722 1165,718 1168,716 1171,720 1174,716 1177,718 1180,714 1183,718 1186,716 1189,718 1192,722 1195,728 1198,730 1201,732 1204,730 1207,728 1210,725 1213,722 1216,718 1219,715 1222,718 1225,722 1228,728 1231,732 1234,738 1237,740 1240,742 1243,738 1246,742 1249,745 1252,742 1255,745 1258,748 1261,745 1264,748 1267,750 1270,745 1273,752 1276,755 1279,750 1282,748 1285,745 1288,748 1291,745 1294,748 1297,742 1300,745 1303,748 1306,745 1309,750 1312,742 1315,746 1318,742 1321,745 1324,748 1327,742 1330,745 1333,742 1336,738 1339,740 1342,738 1345,740 1348,736 1351,738 1354,735 1357,738 1360,735 1363,738 1366,736 1369,735 1372,738 1375,732 1378,735 1381,738 1384,733 1387,736 1390,740 1393,738 1396,735 1399,740 1402,738 1405,730 1408,718 1411,725 1414,730 1417,728 1420,732 1423,730 1426,728 1429,730 1432,732 1435,730 1438,728 1441,732 1444,728 1447,730 1450,728 1453,725 1456,705 1459,702 1462,698 1465,692 1468,695 1471,690 1474,692 1477,700 1480,708 1483,712 1486,705 1489,712 1492,715 1495,712 1498,708 1501,712 1504,715 1507,710 1510,705 1513,712 1516,708 1519,712 1522,715 1525,710 1528,712 1531,718 1534,722 1537,712 1540,708 1543,712 1546,718 1549,715 1552,705 1555,708 1558,702 1560,700"/>
</g>
<rect class="sp" x="498.5" y="3079" width="4650.5" height="1156.5"/>
<g class="tk">
<line x1="469" y1="3348.3" x2="498.5" y2="3348.3"/>
<line x1="469" y1="3700" x2="498.5" y2="3700"/>
<line x1="469" y1="4051.7" x2="498.5" y2="4051.7"/>
<line x1="498.5" y1="4235.5" x2="498.5" y2="4264"/>
<line x1="1080.2" y1="4235.5" x2="1080.2" y2="4264"/>
<line x1="1661.9" y1="4235.5" x2="1661.9" y2="4264"/>
<line x1="2243.6" y1="4235.5" x2="2243.6" y2="4264"/>
<line x1="2825.3" y1="4235.5" x2="2825.3" y2="4264"/>
<line x1="3407" y1="4235.5" x2="3407" y2="4264"/>
<line x1="3988.7" y1="4235.5" x2="3988.7" y2="4264"/>
<line x1="4570.4" y1="4235.5" x2="4570.4" y2="4264"/>
</g>
<g font-size="83" text-anchor="end">
<text x="440" y="3380.3">54200</text>
<text x="440" y="3732">54100</text>
<text x="440" y="4083.7">54000</text>
</g>
<text transform="translate(132,3657) rotate(-90)" font-size="83" text-anchor="middle">nT</text>

<!-- x tick labels -->
<g font-size="75" text-anchor="middle">
<text x="498.5" y="4351">00:00</text>
<text x="1080.2" y="4351">03:00</text>
<text x="1661.9" y="4351">06:00</text>
<text x="2243.6" y="4351">09:00</text>
<text x="2825.3" y="4351">12:00</text>
<text x="3407" y="4351">15:00</text>
<text x="3988.7" y="4351">18:00</text>
<text x="4570.4" y="4351">21:00</text>
</g>
<text x="2823" y="4465" font-size="83" text-anchor="middle">2025-11-17 (UTC)</text>

<!-- figure border -->
<rect x="0" y="0" width="5207" height="4541" fill="none" stroke="#000" stroke-width="16"/>
</svg>
</body>
</html>
